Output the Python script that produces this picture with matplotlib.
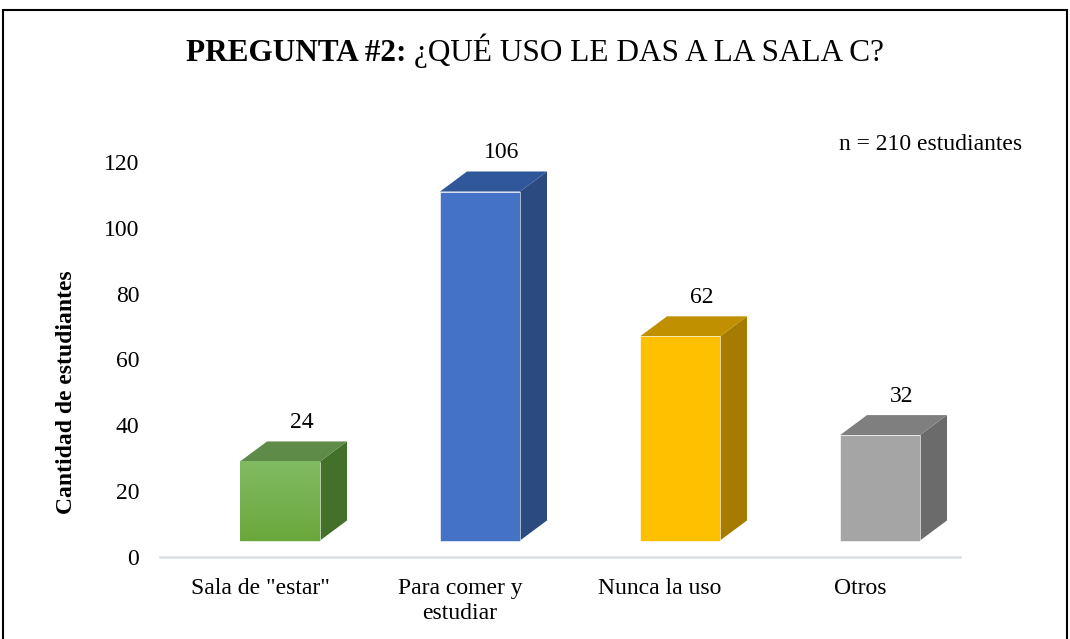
import numpy as np
import matplotlib.pyplot as plt
from matplotlib.patches import Polygon, Rectangle
from matplotlib.colors import LinearSegmentedColormap

categories = ['Sala de "estar"', 'Para comer y\nestudiar', 'Nunca la uso', 'Otros']
values = [24, 106, 62, 32]
front_colors = ['#70ad47', '#4472c4', '#ffc000', '#a5a5a5']
top_colors = ['#5f8b49', '#30579a', '#c09000', '#7f7f7f']
side_colors = ['#43712a', '#2a4a80', '#a67c00', '#6b6b6b']

plt.rcParams['font.family'] = ['Liberation Serif', 'DejaVu Serif']

fig = plt.figure(figsize=(10.7, 6.39), dpi=100)
ax = fig.add_axes([160 / 1070, 1 - 557 / 639, 800 / 1070, 428 / 639])

x = np.arange(len(categories))
width = 0.4      # front face width
shift = 0.1      # front face shifted right of the category centre
base = 5         # front face floor (3d look)
ddx = 0.135      # depth offset in x units
ddy = 6.1        # depth offset in y units

for i, v in enumerate(values):
    x0 = x[i] + shift - width / 2
    x1 = x0 + width
    y0 = base
    y1 = base + v
    # side face
    ax.add_patch(Polygon([(x1, y0), (x1 + ddx, y0 + ddy), (x1 + ddx, y1 + ddy), (x1, y1)],
                         closed=True, facecolor=side_colors[i], edgecolor='none', zorder=2))
    # top face
    ax.add_patch(Polygon([(x0, y1), (x0 + ddx, y1 + ddy), (x1 + ddx, y1 + ddy), (x1, y1)],
                         closed=True, facecolor=top_colors[i], edgecolor='none', zorder=2))
    # front face
    ax.bar(x[i] + shift, v, width, bottom=base, color=front_colors[i],
           edgecolor='white', linewidth=0.4, zorder=3)
    if i == 0:
        grad = np.linspace(0, 1, 100).reshape(-1, 1)
        cmap = LinearSegmentedColormap.from_list('g', ['#6aa83c', '#80bb62'])
        ax.imshow(grad, extent=(x0, x1, y0, y1), origin='lower', cmap=cmap,
                  aspect='auto', zorder=4)
    ax.annotate(str(v), (x[i] + 0.21, y1 + ddy), xytext=(0, 6), textcoords='offset points',
                ha='center', va='bottom', fontsize=17, color='black')

ax.set_xlim(-0.5, 3.5)
ax.set_ylim(0, 130)
ax.set_yticks(np.arange(0, 121, 20))
ax.set_xticks(x)
ax.set_xticklabels(categories, fontsize=17, linespacing=1.25)
ax.tick_params(axis='y', labelsize=17, length=0, pad=15)
ax.tick_params(axis='x', length=0, pad=15)
for s in ['top', 'right', 'left']:
    ax.spines[s].set_visible(False)
ax.spines['bottom'].set_color('#d9dde3')
ax.spines['bottom'].set_linewidth(1.8)

ax.set_ylabel('Cantidad de estudiantes', fontsize=17, fontweight='bold')
ax.yaxis.set_label_coords(-0.104, 0.385)

ax.text(1.0775, 1 - (145 - 129) / 428, 'n = 210 estudiantes', transform=ax.transAxes,
        ha='right', va='center', fontsize=17)

# title: bold part + normal part, centred together
ty = 1 - 61 / 639
t1 = fig.text(0, ty, 'PREGUNTA #2:', fontsize=22.5, fontweight='bold', ha='left', va='baseline')
t2 = fig.text(0, ty, '¿QUÉ USO LE DAS A LA SALA C?', fontsize=22.5, ha='left', va='baseline')
fig.canvas.draw()
w1 = t1.get_window_extent().width
w2 = t2.get_window_extent().width
gap = 7
start = 535 - (w1 + gap + w2) / 2
t1.set_x(start / 1070)
t2.set_x((start + w1 + gap) / 1070)

fig.add_artist(Rectangle((3 / 1070, -0.05), 1064 / 1070, 1.05 - 10 / 639,
                         transform=fig.transFigure, fill=False, edgecolor='black',
                         linewidth=1.5))

fig.savefig('out.png', dpi=100)
